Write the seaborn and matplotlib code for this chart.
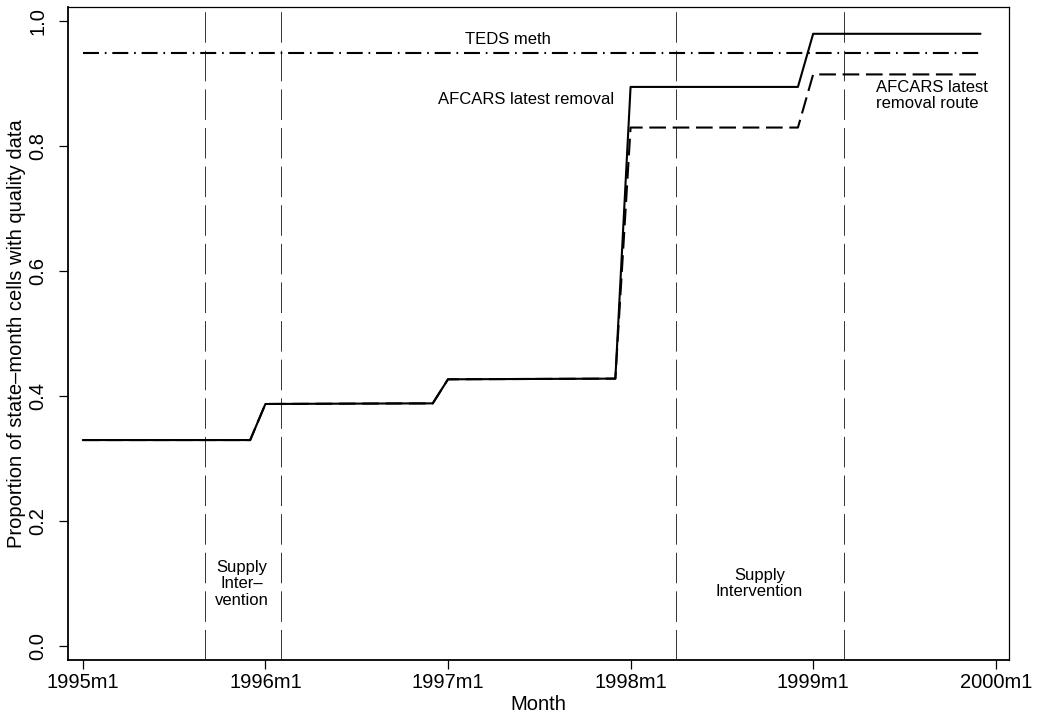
"""Share of state-month cells with quality data, 1995m1-1999m12.

Step lines for the AFCARS removal measures and the TEDS meth series, with
long-dash verticals marking the start/end of the two supply interventions.
Written to ``out.png``.
"""

from __future__ import annotations

import matplotlib

matplotlib.use("Agg")  # headless / file output only
import matplotlib.pyplot as plt
import pandas as pd
import seaborn as sns

# Month index: 0 = 1995m1 ... 59 = 1999m12
MONTHS = list(range(60))

# AFCARS latest removal (solid)
AFCARS_REMOVAL = (
    [0.329] * 12
    + [0.3867, 0.3868, 0.3869, 0.3870, 0.3871, 0.3872,
       0.3873, 0.3874, 0.3875, 0.3876, 0.3876, 0.3877]
    + [0.4262, 0.4263, 0.4264, 0.4265, 0.4266, 0.4267,
       0.4268, 0.4269, 0.4270, 0.4271, 0.4272, 0.4273]
    + [0.894] * 12
    + [0.979] * 12
)

# AFCARS latest removal route (dashed)
AFCARS_ROUTE = AFCARS_REMOVAL[:36] + [0.829] * 12 + [0.914] * 12

# TEDS meth (dash-dot)
TEDS_METH = [0.948] * 60

# Supply intervention boundaries (1995m9, 1996m2, 1998m4, 1999m3)
INTERVENTION_MONTHS = [8, 13, 39, 50]

XTICKS = [0, 12, 24, 36, 48, 60]
XTICK_LABELS = ["1995m1", "1996m1", "1997m1", "1998m1", "1999m1", "2000m1"]
YTICKS = [0.0, 0.2, 0.4, 0.6, 0.8, 1.0]

FONT = ["Liberation Sans", "DejaVu Sans"]


def main() -> None:
    sns.set_style("ticks")
    plt.rcParams["font.family"] = FONT
    plt.rcParams["lines.scale_dashes"] = False
    for key in ("text.color", "axes.labelcolor", "xtick.color",
                "ytick.color", "axes.edgecolor"):
        plt.rcParams[key] = "black"

    df = pd.DataFrame({
        "month": MONTHS,
        "removal": AFCARS_REMOVAL,
        "route": AFCARS_ROUTE,
        "teds": TEDS_METH,
    })

    fig = plt.figure(figsize=(10.39, 7.17), dpi=100)
    ax = fig.add_axes([0.0655, 0.0795, 0.9056, 0.9112])

    for m in INTERVENTION_MONTHS:
        ax.axvline(m, color="#333333", lw=0.7, linestyle=(0, (22, 5.8)),
                   zorder=1)

    sns.lineplot(data=df, x="month", y="teds", ax=ax, color="black",
                 lw=1.5, linestyle=(0, (11.5, 4.2, 1.2, 4.2)))
    sns.lineplot(data=df, x="month", y="route", ax=ax, color="black",
                 lw=1.5, linestyle=(0, (12, 4.8)))
    sns.lineplot(data=df, x="month", y="removal", ax=ax, color="black",
                 lw=1.5)

    txt = dict(fontsize=12, color="black")
    ax.text(27.95, 0.970, "TEDS meth", ha="center", va="center", **txt)
    ax.text(34.9, 0.874, "AFCARS latest removal", ha="right", va="center",
            **txt)
    ax.text(52.1, 0.880, "AFCARS latest\nremoval route", ha="left",
            va="center", linespacing=1.1, **txt)
    ax.text(10.44, 0.099, "Supply\nInter\u2013\nvention", ha="center",
            va="center", linespacing=1.1, **txt)
    ax.text(44.48, 0.099, "Supply\nIntervention", ha="center", va="center",
            linespacing=1.1, **txt)

    ax.set_xlim(-0.97, 60.87)
    ax.set_ylim(-0.0229, 1.0224)
    ax.set_xticks(XTICKS)
    ax.set_xticklabels(XTICK_LABELS, fontsize=14.5)
    ax.set_yticks(YTICKS)
    ax.set_yticklabels([f"{v:.1f}" for v in YTICKS], fontsize=14.5,
                       rotation=90, va="center")
    ax.tick_params(axis="both", length=6.5, width=0.9, color="black")
    ax.tick_params(axis="y", pad=8.5)
    ax.tick_params(axis="x", pad=3)

    ax.set_xlabel("Month", fontsize=14.5, labelpad=2)
    ax.set_ylabel("Proportion of state\u2013month cells with quality data",
                  fontsize=14.5, labelpad=1.5)

    for side, spine in ax.spines.items():
        spine.set_visible(True)
        spine.set_color("black")
        spine.set_linewidth(1.3 if side in ("left", "bottom") else 0.9)

    fig.savefig("out.png", dpi=100)
    plt.close(fig)


if __name__ == "__main__":
    main()
